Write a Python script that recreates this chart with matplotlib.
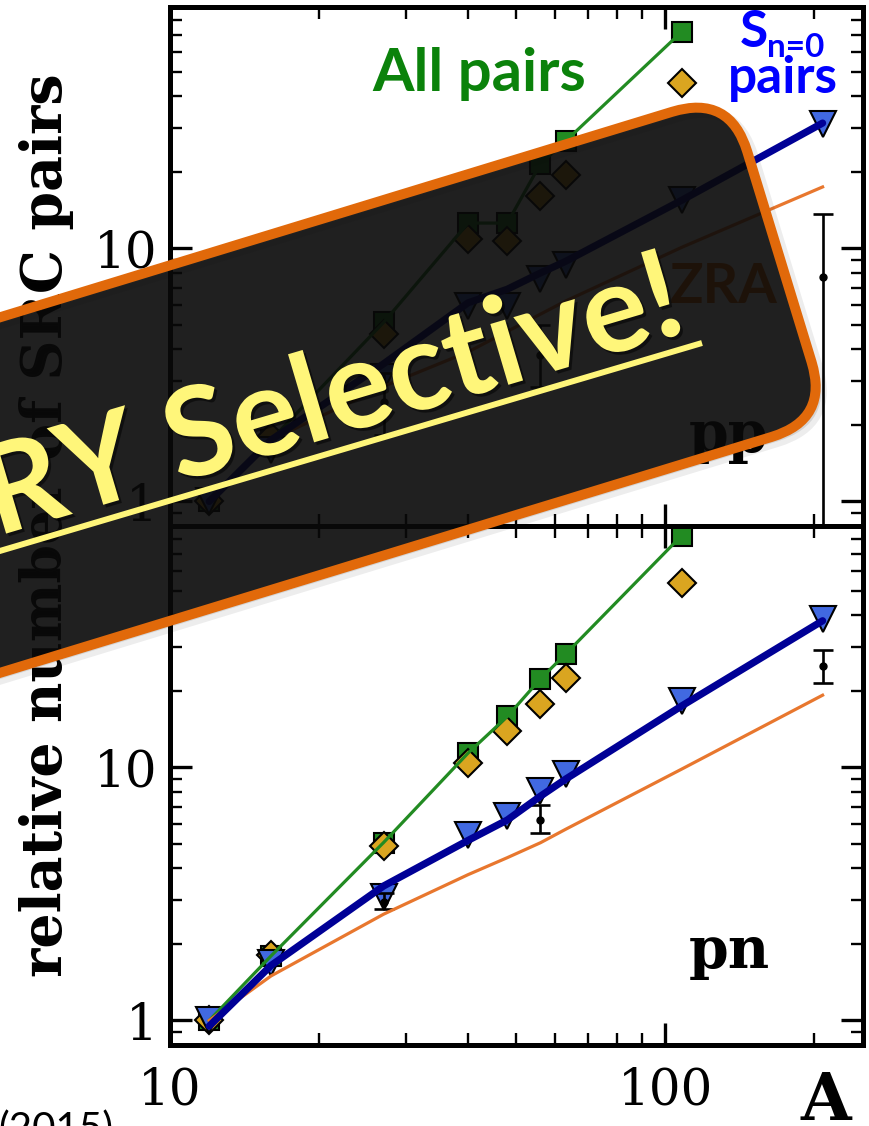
import matplotlib
matplotlib.use("Agg")
import matplotlib.pyplot as plt
import matplotlib.patheffects as pe
from matplotlib.patches import FancyBboxPatch
from matplotlib.transforms import Affine2D
from matplotlib.ticker import LogLocator, FuncFormatter, NullFormatter

# ---------------- data ----------------
mass_number = [12, 16, 27, 40, 48, 56, 63, 108, 208]
mass_number_pairs = [12, 16, 27, 40, 48, 56, 63, 108]

# pp pairs (upper panel)
pp_all = [1.0, 1.75, 5.1, 12.6, 12.6, 21.6, 26.6, 71.8]
pp_diamond = [1.0, 1.8, 4.6, 10.9, 10.7, 16.1, 19.5, 44.9]
pp_sn0 = [1.0, 1.6, 3.1, 5.9, 5.9, 7.6, 8.6, 15.6, 31.1]
pp_sn0_curve = [1.0, 1.75, 3.5, 6.1, 6.9, 8.0, 8.9, 15.5, 31.3]
pp_zra = [1.0, 1.75, 2.85, 3.9, 4.7, 5.5, 6.2, 10.1, 17.5]
pp_exp_A = [27, 56, 208]
pp_exp = [2.47, 3.8, 7.7]
pp_exp_lo = [1.83, 2.84, 0.5]
pp_exp_hi = [3.22, 5.0, 13.7]

# pn pairs (lower panel)
pn_all = [1.0, 1.8, 5.05, 11.4, 15.9, 22.4, 28.1, 82.5]
pn_diamond = [1.0, 1.81, 4.88, 10.4, 13.9, 17.8, 22.5, 53.7]
pn_sn0 = [1.0, 1.69, 3.08, 5.4, 6.45, 8.1, 9.4, 18.3, 38.7]
pn_sn0_curve = [0.95, 1.65, 3.4, 5.15, 6.2, 7.7, 9.0, 17.5, 38.0]
pn_zra = [1.0, 1.5, 2.63, 3.77, 4.4, 5.04, 5.7, 9.85, 19.3]
pn_exp_A = [27, 56, 208]
pn_exp = [2.95, 6.2, 25.2]
pn_exp_lo = [2.75, 5.5, 21.5]
pn_exp_hi = [3.2, 7.1, 29.0]

# ---------------- style ----------------
C_GREEN = "#228B22"
C_GOLD = "#DAA520"
C_ROYAL = "#4169E1"
C_NAVY = "#000096"
C_ORANGE = "#E8772E"
C_BORDER = "#E1690A"
C_YELLOW = "#FFF67A"
SERIF = "DejaVu Serif"
SANS = ["Lato", "DejaVu Sans"]

W, H = 869, 1126
fig = plt.figure(figsize=(W / 100, H / 100), dpi=100)

LEFT, RIGHT = 170, 863
TOP, MID, BOT = 7, 526, 1045


def box(top, bottom):
    return [LEFT / W, 1 - bottom / H, (RIGHT - LEFT) / W, (bottom - top) / H]


ax_pp = fig.add_axes(box(TOP, MID))
ax_pn = fig.add_axes(box(MID, BOT), sharex=ax_pp)


def draw_panel(ax, all_v, dia_v, tri_v, curve_v, zra_v, eA, ev, elo, ehi):
    ax.set_xscale("log")
    ax.set_yscale("log")
    ax.plot(mass_number_pairs, all_v, ls="none", marker="s", ms=15,
            mfc=C_GREEN, mec="black", mew=1.5, zorder=2)
    ax.plot(mass_number_pairs, dia_v, ls="none", marker="D", ms=14,
            mfc=C_GOLD, mec="black", mew=1.5, zorder=3)
    ax.plot(mass_number, tri_v, ls="none", marker="v", ms=19,
            mfc=C_ROYAL, mec="black", mew=1.5, zorder=4)
    yerr = [[v - lo for v, lo in zip(ev, elo)], [hi - v for v, hi in zip(ev, ehi)]]
    ax.errorbar(eA, ev, yerr=yerr, fmt="o", color="black", ms=5,
                elinewidth=1.9, capsize=7, capthick=1.9, zorder=5)
    ax.plot(mass_number_pairs, all_v, color=C_GREEN, lw=2.3, zorder=6)
    ax.plot(mass_number, zra_v, color=C_ORANGE, lw=2.3, zorder=6)
    ax.plot(mass_number, curve_v, color=C_NAVY, lw=5.2, zorder=7,
            solid_capstyle="round")

    ax.set_xlim(10, 251)
    ax.set_ylim(0.8, 90)
    ax.xaxis.set_major_locator(LogLocator(base=10, numticks=10))
    ax.xaxis.set_minor_locator(LogLocator(base=10, subs=range(2, 10), numticks=10))
    ax.yaxis.set_major_locator(LogLocator(base=10, numticks=10))
    ax.yaxis.set_minor_locator(LogLocator(base=10, subs=range(2, 10), numticks=10))
    fmt = FuncFormatter(lambda v, _: f"{v:g}")
    ax.xaxis.set_major_formatter(fmt)
    ax.yaxis.set_major_formatter(fmt)
    ax.xaxis.set_minor_formatter(NullFormatter())
    ax.yaxis.set_minor_formatter(NullFormatter())
    ax.tick_params(which="both", direction="in", top=True, right=True,
                   labelsize=36, pad=9)
    ax.tick_params(which="major", length=16, width=2.4)
    ax.tick_params(which="minor", length=8.5, width=1.7)
    for sp in ax.spines.values():
        sp.set_linewidth(3.6)


draw_panel(ax_pp, pp_all, pp_diamond, pp_sn0, pp_sn0_curve, pp_zra,
           pp_exp_A, pp_exp, pp_exp_lo, pp_exp_hi)
draw_panel(ax_pn, pn_all, pn_diamond, pn_sn0, pn_sn0_curve, pn_zra,
           pn_exp_A, pn_exp, pn_exp_lo, pn_exp_hi)
ax_pp.tick_params(labelbottom=False)
ax_pn.tick_params(axis="x", pad=15)
for ax in (ax_pp, ax_pn):
    for lab in ax.get_xticklabels() + ax.get_yticklabels():
        lab.set_fontfamily(SERIF)

# panel annotations
ax_pp.text(0.2915, 0.838, "All pairs", transform=ax_pp.transAxes, color="#0B820B",
           fontsize=43, fontweight="bold", family=SANS, ha="left", va="baseline")
ax_pp.text(0.8225, 0.923, "S", transform=ax_pp.transAxes, color="#0000FF",
           fontsize=37, fontweight="bold", family=SANS, ha="left", va="baseline")
ax_pp.text(0.8615, 0.903, "n=0", transform=ax_pp.transAxes, color="#0000FF",
           fontsize=24, fontweight="bold", family=SANS, ha="left", va="baseline")
ax_pp.text(0.885, 0.834, "pairs", transform=ax_pp.transAxes, color="#0000FF",
           fontsize=37, fontweight="bold", family=SANS, ha="center", va="baseline")
ax_pp.text(0.7215, 0.43, "ZRA", transform=ax_pp.transAxes, color=C_BORDER,
           fontsize=40, fontweight="bold", family=SANS, ha="left", va="baseline")
ax_pp.text(0.748, 0.142, "pp", transform=ax_pp.transAxes, color="black",
           fontsize=41, fontweight="bold", family=SERIF, ha="left", va="baseline")
ax_pn.text(0.748, 0.148, "pn", transform=ax_pn.transAxes, color="black",
           fontsize=41, fontweight="bold", family=SERIF, ha="left", va="baseline")

fig.text(0.054, 0.534, "relative number of SRC pairs", rotation=90, ha="center",
         va="center", family=SERIF, fontweight="bold", fontsize=40)
fig.text(800 / W, 1 - 1120 / H, "A", ha="left", va="baseline", family=SERIF,
         fontweight="bold", fontsize=47)
fig.text(-0.002, 1 - 1110 / H, "(2015)", ha="left", va="top", family=SANS,
         fontsize=29)

# ---------------- rotated banner overlay (pixel coordinates) ----------------
ov = fig.add_axes([0, 0, 1, 1], zorder=20)
ov.set_xlim(0, W)
ov.set_ylim(H, 0)
ov.axis("off")
ov.patch.set_visible(False)

corner = (729.7, 94.2)
band_h, band_w = 340, 1100
tilt = -17
rot = Affine2D().rotate_deg_around(corner[0], corner[1], tilt)

shadow = FancyBboxPatch((corner[0] - band_w + 4, corner[1] + 6), band_w, band_h,
                        boxstyle="round,pad=0,rounding_size=60",
                        fc=(0, 0, 0, 0.10), ec=(0, 0, 0, 0.07), lw=8,
                        transform=rot + ov.transData)
ov.add_patch(shadow)
banner = FancyBboxPatch((corner[0] - band_w, corner[1]), band_w, band_h,
                        boxstyle="round,pad=0,rounding_size=60",
                        fc=(0.04, 0.04, 0.04, 0.9), ec=C_BORDER, lw=7.2,
                        transform=rot + ov.transData)
ov.add_patch(banner)

text_fx = [pe.SimplePatchShadow(offset=(2, -2), shadow_rgbFace="black", alpha=0.5),
           pe.Normal()]
ov.text(690, 331, "VERY Selective!", rotation=16.5, rotation_mode="anchor",
        ha="right", va="baseline", fontsize=89, fontweight="bold", family=SANS,
        color=C_YELLOW, path_effects=text_fx)
ov.plot([-60, 702], [343 + 0.2962 * 762, 343], color=C_YELLOW, lw=4.3,
        solid_capstyle="butt")

fig.savefig("out.png", dpi=100)
